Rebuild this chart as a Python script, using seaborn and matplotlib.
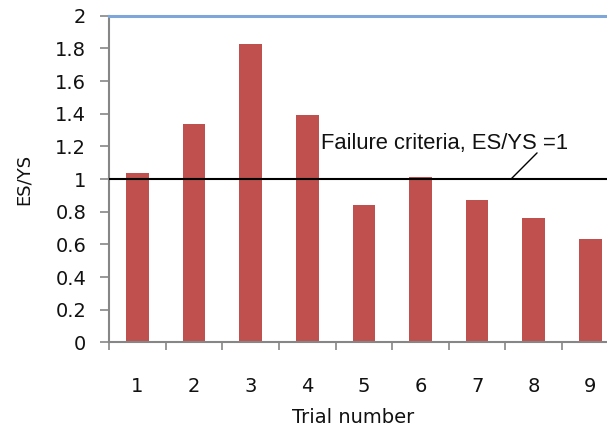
import matplotlib
matplotlib.use("Agg")
import matplotlib.pyplot as plt
import seaborn as sns
import pandas as pd
from matplotlib.ticker import FixedLocator

trials = ["1", "2", "3", "4", "5", "6", "7", "8", "9"]
es_ys = [1.04, 1.34, 1.83, 1.39, 0.84, 1.01, 0.87, 0.76, 0.63]
y_ticks = [0, 0.2, 0.4, 0.6, 0.8, 1, 1.2, 1.4, 1.6, 1.8, 2]
criterion = 1.0
criterion_label = "Failure criteria, ES/YS =1"

df = pd.DataFrame({"Trial number": trials, "ES/YS": es_ys})

sns.set_style("white")
plt.rcParams["font.family"] = ["DejaVu Sans"]

fig = plt.figure(figsize=(6.07, 4.28), dpi=100)
ax = fig.add_axes([0.180, 0.2002, 0.839, 0.763])

sns.barplot(data=df, x="Trial number", y="ES/YS", color="#C0504D",
            width=0.4, saturation=1, ax=ax, edgecolor="none")

ax.set_xlim(-0.5, len(trials) - 0.5)
ax.set_ylim(0, 2)
ax.set_yticks(y_ticks)
ax.set_yticklabels([f"{v:g}" for v in y_ticks])

# category boundary ticks on the x axis
ax.xaxis.set_minor_locator(FixedLocator([i - 0.5 for i in range(len(trials) + 1)]))
ax.tick_params(axis="x", which="major", length=0, pad=25, labelsize=14, colors="#111111")
ax.tick_params(axis="x", which="minor", bottom=True, length=5.5, width=1.2, color="#868686")
ax.tick_params(axis="y", which="major", left=True, length=6.5, width=1.2, color="#868686",
               pad=10, labelsize=14, labelcolor="#111111")

for side in ["left", "bottom"]:
    ax.spines[side].set_color("#868686")
    ax.spines[side].set_linewidth(1.5)
ax.spines["right"].set_visible(False)
ax.spines["top"].set_color("#7EA6D8")
ax.spines["top"].set_linewidth(2.2)

ax.axhline(criterion, color="black", lw=1.5, zorder=3)
ax.text(3.235, 1.184, criterion_label, fontsize=15.8, family="Liberation Sans",
        color="#111111", ha="left", va="baseline")
ax.annotate("", xy=(6.6, criterion), xytext=(7.06, 1.16),
            arrowprops=dict(arrowstyle="-", color="black", lw=1,
                            shrinkA=0, shrinkB=0))

ax.set_xlabel("Trial number", fontsize=14, color="#111111")
ax.xaxis.set_label_coords(0.478, -0.2)
ax.xaxis.label.set_va("top")
ax.set_ylabel("ES/YS", fontsize=13, color="#111111")
ax.yaxis.set_label_coords(-0.15, 0.5)

fig.savefig("out.png", dpi=100)
